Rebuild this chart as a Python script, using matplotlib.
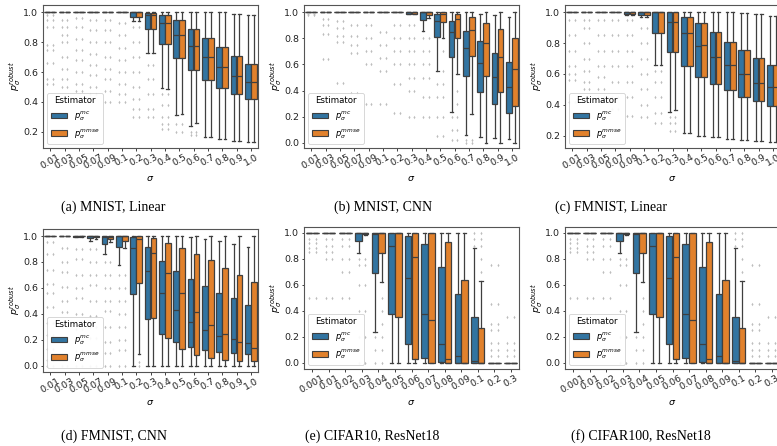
import matplotlib.pyplot as plt

W, H = 777, 446
BLUE = "#3274a1"
ORANGE = "#e1812c"
LINE = "#3f3f3f"

# each box: (whisker low, q1, median, q3, whisker high)
ONE = (1.0, 1.0, 1.0, 1.0, 1.0)
ZERO = (0.0, 0.0, 0.0, 0.0, 0.0)

# (a) MNIST, Linear
a_sigma = ["0.01", "0.03", "0.05", "0.07", "0.09", "0.1", "0.2", "0.3", "0.4", "0.5", "0.6", "0.7", "0.8", "0.9", "1.0"]
a_mc = [ONE, ONE, ONE, ONE, ONE, ONE,
        (0.94, 0.97, 1.0, 1.0, 1.0), (0.727, 0.887, 0.98, 0.995, 1.0), (0.493, 0.787, 0.927, 0.982, 1.0),
        (0.316, 0.693, 0.849, 0.944, 1.0), (0.242, 0.616, 0.771, 0.889, 1.0), (0.164, 0.549, 0.698, 0.827, 1.0),
        (0.153, 0.493, 0.633, 0.764, 1.0), (0.142, 0.453, 0.576, 0.709, 0.987), (0.133, 0.42, 0.536, 0.653, 0.978)]
a_mmse = [ONE, ONE, ONE, ONE, ONE, ONE,
          (0.94, 0.97, 1.0, 1.0, 1.0), (0.727, 0.887, 0.98, 0.995, 1.0), (0.488, 0.787, 0.927, 0.982, 1.0),
          (0.32, 0.693, 0.849, 0.944, 1.0), (0.26, 0.616, 0.771, 0.889, 1.0), (0.164, 0.549, 0.698, 0.827, 1.0),
          (0.153, 0.495, 0.633, 0.764, 1.0), (0.142, 0.453, 0.576, 0.709, 0.987), (0.133, 0.42, 0.536, 0.655, 0.978)]
a_fliers = [[0.52, 0.55, 0.66, 0.75, 0.78, 0.9, 0.95, 0.98], [0.5, 0.55, 0.62, 0.7, 0.8, 0.85, 0.9, 0.95],
            [0.47, 0.52, 0.6, 0.68, 0.75, 0.82, 0.9, 0.96], [0.45, 0.5, 0.58, 0.65, 0.72, 0.8, 0.88, 0.95],
            [0.4, 0.47, 0.55, 0.62, 0.7, 0.8, 0.88, 0.95], [0.4, 0.45, 0.52, 0.6, 0.68, 0.76, 0.85, 0.93],
            [0.3, 0.35, 0.42, 0.5, 0.6, 0.7, 0.8, 0.9], [0.3, 0.35, 0.45, 0.55, 0.65],
            [0.22, 0.25, 0.3, 0.38, 0.45], [0.2, 0.25], [0.18, 0.2], [], [], [], []]

# (b) MNIST, CNN
b_sigma = a_sigma
b_mc = [ONE, ONE, ONE, ONE, ONE, ONE, ONE,
        (0.985, 0.99, 1.0, 1.0, 1.0), (0.857, 0.94, 1.0, 1.0, 1.0), (0.55, 0.808, 0.936, 0.985, 1.0),
        (0.238, 0.655, 0.847, 0.936, 1.0), (0.059, 0.51, 0.729, 0.86, 1.0), (0.046, 0.386, 0.609, 0.777, 0.987),
        (0.033, 0.297, 0.501, 0.69, 0.98), (0.026, 0.228, 0.43, 0.616, 0.962)]
b_mmse = [ONE, ONE, ONE, ONE, ONE, ONE, ONE,
          (0.985, 0.99, 1.0, 1.0, 1.0), (0.96, 0.98, 1.0, 1.0, 1.0), (0.806, 0.923, 0.987, 1.0, 1.0),
          (0.527, 0.8, 0.946, 0.985, 1.0), (0.217, 0.665, 0.864, 0.962, 1.0), (0.0, 0.514, 0.767, 0.921, 1.0),
          (0.0, 0.391, 0.655, 0.87, 1.0), (0.0, 0.279, 0.563, 0.8, 1.0)]
b_fliers = [[0.98, 0.99], [0.64, 0.83, 0.9, 0.95], [0.46, 0.77, 0.82, 0.88, 0.93], [0.38, 0.69, 0.75, 0.82, 0.9],
            [0.3, 0.6, 0.7, 0.8, 0.9], [0.3, 0.55, 0.65, 0.75, 0.85], [0.23, 0.45, 0.6, 0.7, 0.8, 0.9],
            [0.2, 0.4, 0.5, 0.6, 0.7, 0.8, 0.9], [0.2, 0.35, 0.5, 0.6, 0.7, 0.8],
            [0.05, 0.2, 0.35, 0.45, 0.55, 0.7], [0.02, 0.1, 0.2, 0.3, 0.4], [0.0, 0.02], [], [], []]

# (c) FMNIST, Linear
c_sigma = a_sigma
c_mc = [ONE, ONE, ONE, ONE,
        (0.985, 0.99, 1.0, 1.0, 1.0), (0.97, 0.983, 1.0, 1.0, 1.0), (0.658, 0.864, 1.0, 1.0, 1.0),
        (0.356, 0.74, 0.94, 1.0, 1.0), (0.215, 0.654, 0.866, 0.972, 1.0), (0.198, 0.583, 0.784, 0.929, 1.0),
        (0.189, 0.535, 0.712, 0.872, 1.0), (0.176, 0.496, 0.656, 0.81, 1.0), (0.172, 0.453, 0.6, 0.756, 0.994),
        (0.168, 0.425, 0.54, 0.706, 0.987), (0.157, 0.395, 0.514, 0.658, 0.978)]
c_mmse = [ONE, ONE, ONE, ONE,
          (0.985, 0.99, 1.0, 1.0, 1.0), (0.97, 0.983, 1.0, 1.0, 1.0), (0.658, 0.864, 1.0, 1.0, 1.0),
          (0.367, 0.74, 0.94, 1.0, 1.0), (0.218, 0.654, 0.866, 0.972, 1.0), (0.2, 0.583, 0.79, 0.929, 1.0),
          (0.189, 0.535, 0.712, 0.872, 1.0), (0.178, 0.496, 0.656, 0.81, 1.0), (0.172, 0.453, 0.6, 0.756, 0.994),
          (0.168, 0.425, 0.54, 0.706, 0.987), (0.16, 0.395, 0.514, 0.66, 0.978)]
c_fliers = [[0.42, 0.56, 0.6, 0.65, 0.75, 0.85, 0.95], [0.5, 0.55, 0.62, 0.7, 0.8, 0.9, 0.95],
            [0.45, 0.5, 0.58, 0.65, 0.75, 0.85, 0.95], [0.37, 0.45, 0.55, 0.65, 0.75, 0.85, 0.95],
            [0.33, 0.45, 0.55, 0.65, 0.75, 0.85, 0.95], [0.32, 0.4, 0.5, 0.6, 0.7, 0.8, 0.9],
            [0.28, 0.35, 0.45, 0.55, 0.62], [0.23, 0.28, 0.32], [], [], [], [], [], [], []]

# (d) FMNIST, CNN
d_sigma = a_sigma
d_mc = [ONE, ONE, (0.99, 0.995, 1.0, 1.0, 1.0), (0.96, 0.982, 1.0, 1.0, 1.0),
        (0.861, 0.938, 0.995, 1.0, 1.0), (0.776, 0.913, 1.0, 1.0, 1.0), (0.0, 0.555, 0.91, 0.99, 1.0),
        (0.0, 0.36, 0.73, 0.913, 1.0), (0.0, 0.244, 0.558, 0.807, 1.0), (0.0, 0.18, 0.429, 0.733, 1.0),
        (0.0, 0.141, 0.339, 0.666, 0.99), (0.0, 0.121, 0.272, 0.614, 0.977), (0.0, 0.108, 0.231, 0.563, 0.964),
        (0.0, 0.095, 0.206, 0.519, 0.936), (0.0, 0.087, 0.177, 0.468, 0.913)]
d_mmse = [ONE, ONE, (0.99, 0.997, 1.0, 1.0, 1.0), (0.98, 0.99, 1.0, 1.0, 1.0),
          (0.95, 0.977, 0.995, 1.0, 1.0), (0.91, 0.961, 1.0, 1.0, 1.0), (0.087, 0.635, 0.974, 1.0, 1.0),
          (0.0, 0.365, 0.866, 0.982, 1.0), (0.0, 0.211, 0.712, 0.949, 1.0), (0.0, 0.131, 0.558, 0.905, 1.0),
          (0.0, 0.082, 0.416, 0.859, 1.0), (0.0, 0.057, 0.314, 0.815, 1.0), (0.0, 0.046, 0.242, 0.756, 1.0),
          (0.0, 0.039, 0.185, 0.699, 1.0), (0.0, 0.033, 0.139, 0.648, 1.0)]
d_fliers = [[0.0, 0.04, 0.13, 0.24, 0.33, 0.45, 0.56, 0.63, 0.74, 0.86, 0.95],
            [0.0, 0.08, 0.19, 0.3, 0.41, 0.5, 0.61, 0.72, 0.8, 0.91],
            [0.0, 0.11, 0.2, 0.28, 0.4, 0.52, 0.6, 0.7, 0.82, 0.9],
            [0.0, 0.1, 0.21, 0.3, 0.38, 0.5, 0.62, 0.7, 0.8, 0.9],
            [0.0, 0.1, 0.18, 0.3, 0.42, 0.5, 0.6, 0.7, 0.8],
            [0.0, 0.12, 0.2, 0.3, 0.4, 0.5, 0.6, 0.7],
            [0.0, 0.03], [], [], [], [], [], [], [], []]

# (e) CIFAR10, ResNet18  /  (f) CIFAR100, ResNet18
e_sigma = ["0.001", "0.01", "0.02", "0.03", "0.04", "0.05", "0.06", "0.07", "0.08", "0.09", "0.1", "0.2", "0.3"]
e_mc = [ONE, ONE, ONE, (0.846, 0.936, 1.0, 1.0, 1.0), (0.233, 0.687, 0.99, 1.0, 1.0),
        (0.0, 0.372, 0.9, 1.0, 1.0), (0.0, 0.141, 0.649, 0.977, 1.0), (0.0, 0.033, 0.372, 0.91, 1.0),
        (0.0, 0.008, 0.144, 0.738, 1.0), (0.0, 0.0, 0.051, 0.526, 1.0), (0.0, 0.0, 0.013, 0.354, 0.885),
        ZERO, ZERO]
e_mmse = [ONE, ONE, ONE, (0.98, 0.987, 1.0, 1.0, 1.0), (0.618, 0.841, 1.0, 1.0, 1.0),
          (0.0, 0.349, 1.0, 1.0, 1.0), (0.0, 0.026, 0.815, 1.0, 1.0), (0.0, 0.0, 0.328, 1.0, 1.0),
          (0.0, 0.0, 0.026, 0.926, 1.0), (0.0, 0.0, 0.0, 0.636, 1.0), (0.0, 0.0, 0.0, 0.264, 0.63),
          ZERO, ZERO]
e_fliers = [[0.5, 0.85, 0.88, 0.92, 0.95], [0.5, 0.8, 0.85, 0.9, 0.95], [0.3, 0.5, 0.7, 0.8, 0.9, 0.95],
            [0.0, 0.2, 0.4, 0.6, 0.75, 0.8], [0.0, 0.1, 0.2, 0.3, 0.4, 0.5], [], [], [], [], [],
            [0.7, 0.8, 0.9, 0.95, 1.0], [0.05, 0.1, 0.15, 0.25, 0.3, 0.45, 0.75], [0.05, 0.1, 0.15, 0.35]]
f_sigma, f_mc, f_mmse, f_fliers = e_sigma, e_mc, e_mmse, e_fliers

panels = [
    ("(a) MNIST, Linear", a_sigma, a_mc, a_mmse, a_fliers, (43, 5, 148), (0.093, 1.047), [0.2, 0.4, 0.6, 0.8, 1.0], (113, 207)),
    ("(b) MNIST, CNN", b_sigma, b_mc, b_mmse, b_fliers, (304, 5, 148), (-0.04, 1.056), [0.0, 0.2, 0.4, 0.6, 0.8, 1.0], (383, 207)),
    ("(c) FMNIST, Linear", c_sigma, c_mc, c_mmse, c_fliers, (565, 5, 148), (0.12, 1.047), [0.2, 0.4, 0.6, 0.8, 1.0], (611, 207)),
    ("(d) FMNIST, CNN", d_sigma, d_mc, d_mmse, d_fliers, (43, 229, 372), (-0.049, 1.054), [0.0, 0.2, 0.4, 0.6, 0.8, 1.0], (114, 436)),
    ("(e) CIFAR10, ResNet18", e_sigma, e_mc, e_mmse, e_fliers, (304, 227, 369), (-0.048, 1.044), [0.0, 0.2, 0.4, 0.6, 0.8, 1.0], (372, 436)),
    ("(f) CIFAR100, ResNet18", f_sigma, f_mc, f_mmse, f_fliers, (565, 227, 369), (-0.048, 1.044), [0.0, 0.2, 0.4, 0.6, 0.8, 1.0], (641, 436)),
]


def stats_for(boxes, fliers):
    out = []
    for (lo, q1, med, q3, hi), fl in zip(boxes, fliers):
        out.append(dict(whislo=lo, q1=q1, med=med, q3=q3, whishi=hi,
                        fliers=[v for v in fl if v < lo or v > hi]))
    return out


fig = plt.figure(figsize=(W / 100, H / 100), dpi=100)
fig.patch.set_facecolor("white")

for caption, sigma, mc, mmse, fliers, (left, top, bottom), ylim, yticks, (cx, cy) in panels:
    ax = fig.add_axes([left / W, 1 - bottom / H, 215 / W, (bottom - top) / H])
    n = len(sigma)
    for boxes, off, col in ((mc, -0.2, BLUE), (mmse, 0.2, ORANGE)):
        ax.bxp(stats_for(boxes, fliers), positions=[i + off for i in range(n)], widths=0.392,
               patch_artist=True, manage_ticks=False,
               boxprops=dict(facecolor=col, edgecolor=LINE, linewidth=0.9),
               whiskerprops=dict(color=LINE, linewidth=0.9),
               capprops=dict(color=LINE, linewidth=0.9),
               medianprops=dict(color=LINE, linewidth=0.9),
               flierprops=dict(marker="d", markersize=1.7, markerfacecolor="#bdbdbd",
                               markeredgecolor="none", linestyle="none"))
    ax.set_xlim(-0.5, n - 0.5)
    ax.set_ylim(*ylim)
    ax.set_xticks(range(n))
    ax.set_xticklabels(sigma, rotation=30, fontsize=6.8)
    ax.set_yticks(yticks)
    ax.set_yticklabels([f"{v:.1f}" for v in yticks], fontsize=6.8)
    ax.tick_params(length=1.8, width=0.6, pad=1.5, colors="#222222")
    for sp in ax.spines.values():
        sp.set_color("#555555")
        sp.set_linewidth(0.8)
    ax.set_xlabel(r"$\sigma$", fontsize=6.8, labelpad=2)
    ax.set_ylabel(r"$p_\sigma^{robust}$", fontsize=6.8, labelpad=0.5)
    handles = [plt.Rectangle((0, 0), 1, 1, facecolor=BLUE, edgecolor=LINE, linewidth=0.8),
               plt.Rectangle((0, 0), 1, 1, facecolor=ORANGE, edgecolor=LINE, linewidth=0.8)]
    leg = ax.legend(handles, [r"$p_\sigma^{mc}$", r"$p_\sigma^{mmse}$"], title="Estimator",
                    loc="lower left", fontsize=6, title_fontsize=6.2, framealpha=0.9)
    leg.get_frame().set_linewidth(0.6)
    fig.text(cx / W, 1 - cy / H, caption, ha="center", va="center",
             fontsize=10, family="Liberation Serif")

fig.savefig("out.png", dpi=100)
